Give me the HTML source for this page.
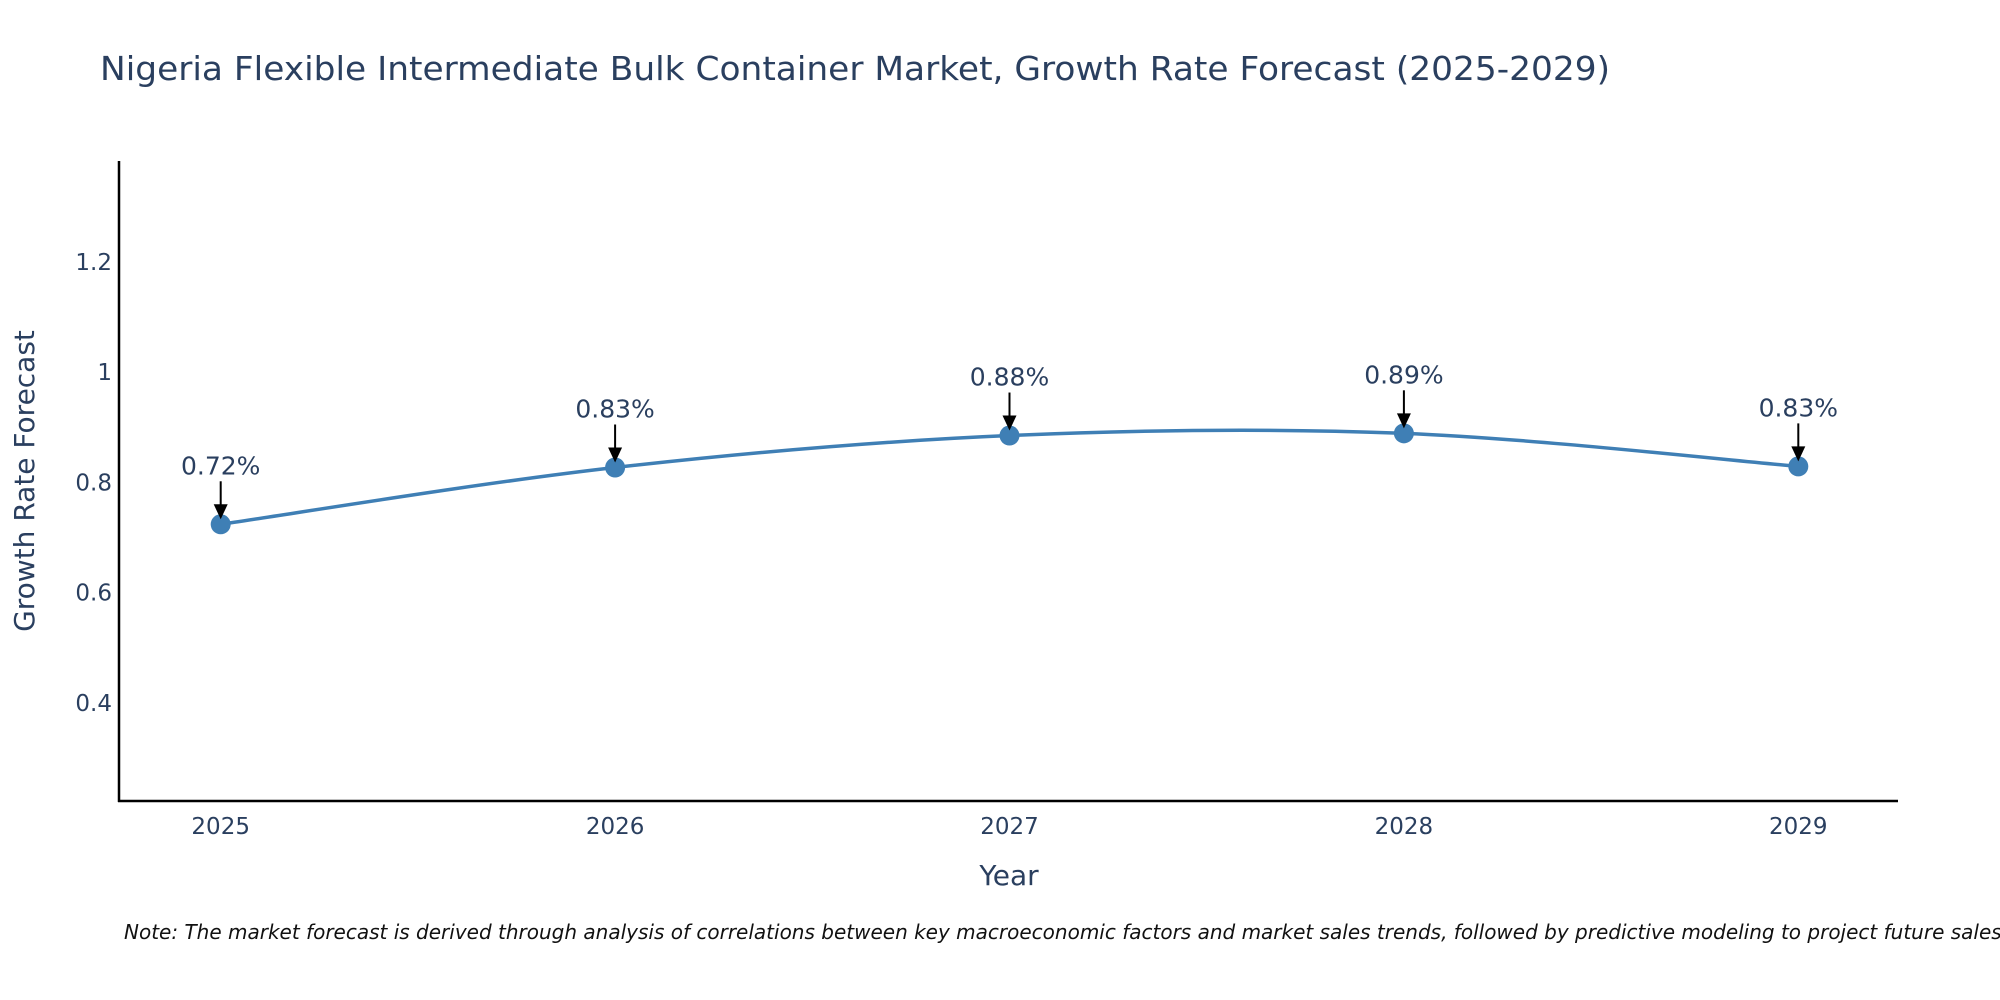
<!DOCTYPE html>
<html><head><meta charset="utf-8"><style>
body{margin:0;background:#fff;}
svg{display:block;font-family:"DejaVu Sans","Liberation Sans",sans-serif;}
</style></head><body>
<svg id="chart" width="2000" height="1000">
<text x="100" y="80" font-size="33" fill="#2a3f5f" textLength="1510" lengthAdjust="spacingAndGlyphs">Nigeria Flexible Intermediate Bulk Container Market, Growth Rate Forecast (2025-2029)</text>
<g id="axes"></g>
<g id="plot"></g>
<text x="124" y="939" font-size="20" font-style="italic" fill="#111">Note: The market forecast is derived through analysis of correlations between key macroeconomic factors and market sales trends, followed by predictive modeling to project future sales.</text>
</svg>
<script>
const years = [2025, 2026, 2027, 2028, 2029];
const values = [0.724, 0.827, 0.885, 0.889, 0.829];
const labels = ["0.72%", "0.83%", "0.88%", "0.89%", "0.83%"];
const yTicks = [0.4, 0.6, 0.8, 1, 1.2];
const yTickLabels = ["0.4", "0.6", "0.8", "1", "1.2"];

const NS = "http://www.w3.org/2000/svg";
const L = 119, R = 1898, T = 161, B = 801;
const yMin = 0.222, yMax = 1.383;
const x0 = 220.7, dx = 394.4;
const xs = y => x0 + (y - years[0]) * dx;
const ys = v => B - (v - yMin) / (yMax - yMin) * (B - T);
function mk(tag, attrs, parent) { const e = document.createElementNS(NS, tag); for (const k in attrs) e.setAttribute(k, attrs[k]); parent.appendChild(e); return e; }
const axes = document.getElementById('axes'), plot = document.getElementById('plot');

let e = mk('line', {x1: L, y1: T, x2: L, y2: B + 1, stroke: '#000', 'stroke-width': 2.5}, axes);
 
e = mk('line', {x1: L - 1, y1: B, x2: R, y2: B, stroke: '#000', 'stroke-width': 2.5}, axes);
 

yTicks.forEach((t, i) => {
  const el = mk('text', {x: 112, y: ys(t) + 8, 'text-anchor': 'end', 'font-size': 23, fill: '#2a3f5f'}, axes);
  el.textContent = yTickLabels[i];
   
});
years.forEach(y => {
  const el = mk('text', {x: xs(y), y: 834, 'text-anchor': 'middle', 'font-size': 23, fill: '#2a3f5f'}, axes);
  el.textContent = y;
   
});
e = mk('text', {x: 1009, y: 885, 'text-anchor': 'middle', 'font-size': 28, fill: '#2a3f5f'}, axes);
e.textContent = 'Year';
 
e = mk('text', {x: 34, y: 481, 'text-anchor': 'middle', 'font-size': 28, fill: '#2a3f5f', transform: 'rotate(-90 34 481)'}, axes);
e.textContent = 'Growth Rate Forecast';
 

const pts = years.map((y, i) => [xs(y), ys(values[i])]);
let d = `M${pts[0][0]},${pts[0][1]}`;
for (let i = 0; i < pts.length - 1; i++) {
  const p0 = pts[Math.max(0, i - 1)], p1 = pts[i], p2 = pts[i + 1], p3 = pts[Math.min(pts.length - 1, i + 2)];
  const c1 = [p1[0] + (p2[0] - p0[0]) / 6, p1[1] + (p2[1] - p0[1]) / 6];
  const c2 = [p2[0] - (p3[0] - p1[0]) / 6, p2[1] - (p3[1] - p1[1]) / 6];
  d += ` C${c1[0]},${c1[1]} ${c2[0]},${c2[1]} ${p2[0]},${p2[1]}`;
}
e = mk('path', {d: d, fill: 'none', stroke: '#3f7fb5', 'stroke-width': 3.5}, plot);
 

pts.forEach((p, i) => {
  const c = mk('circle', {cx: p[0], cy: p[1], r: 10, fill: '#3f7fb5'}, plot);
   
  const a = mk('line', {x1: p[0], y1: p[1] - 43, x2: p[0], y2: p[1] - 18, stroke: '#000', 'stroke-width': 2}, plot);
   
  const h = mk('polygon', {points: `${p[0] - 7},${p[1] - 20} ${p[0] + 7},${p[1] - 20} ${p[0]},${p[1] - 5}`, fill: '#000'}, plot);
   
  const t = mk('text', {x: p[0], y: p[1] - 50, 'text-anchor': 'middle', 'font-size': 25, fill: '#2a3f5f'}, plot);
  t.textContent = labels[i];
   
});
</script>
</body></html>
